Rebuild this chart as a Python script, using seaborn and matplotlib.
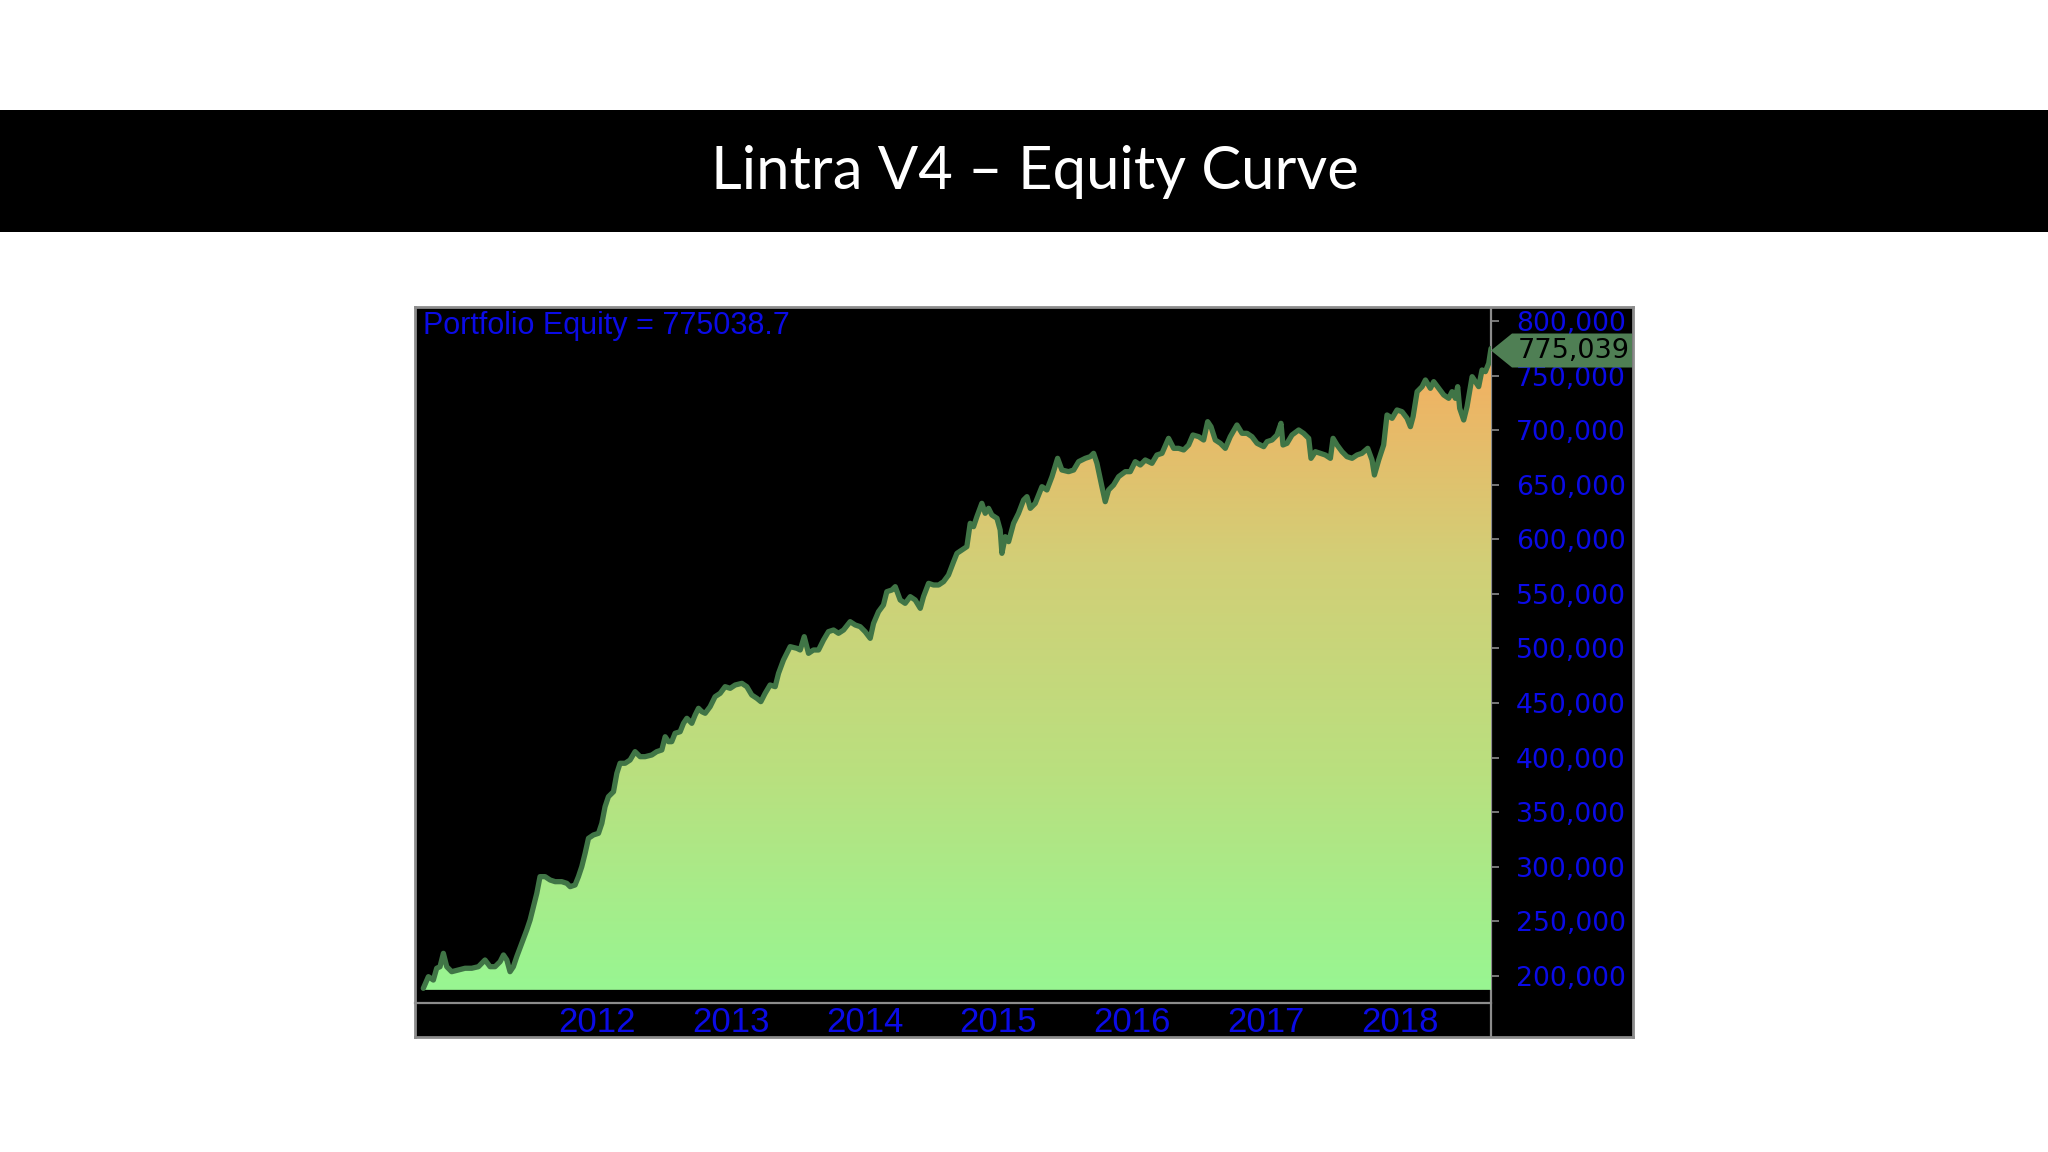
import numpy as np
import pandas as pd
import seaborn as sns
import matplotlib.pyplot as plt
from matplotlib.colors import LinearSegmentedColormap
from matplotlib.patches import Polygon, Rectangle
from matplotlib.transforms import IdentityTransform

# Equity curve (decimal year, equity)
years = [
    2010.993, 2011.031, 2011.068, 2011.093, 2011.118, 2011.143, 2011.168, 2011.205, 2011.255, 2011.305,
    2011.355, 2011.405, 2011.454, 2011.492, 2011.529, 2011.567, 2011.592, 2011.617, 2011.641, 2011.666,
    2011.691, 2011.729, 2011.766, 2011.791, 2011.816, 2011.841, 2011.865, 2011.903, 2011.940, 2011.978,
    2012.027, 2012.065, 2012.090, 2012.127, 2012.152, 2012.177, 2012.202, 2012.227, 2012.264, 2012.302,
    2012.327, 2012.351, 2012.376, 2012.414, 2012.439, 2012.463, 2012.501, 2012.538, 2012.575, 2012.613,
    2012.650, 2012.700, 2012.737, 2012.775, 2012.800, 2012.825, 2012.849, 2012.874, 2012.912, 2012.937,
    2012.962, 2012.999, 2013.024, 2013.049, 2013.074, 2013.099,
    2013.136, 2013.173, 2013.211, 2013.248, 2013.286, 2013.323, 2013.373, 2013.410, 2013.447, 2013.485,
    2013.515, 2013.547, 2013.584, 2013.622, 2013.647, 2013.684, 2013.709, 2013.734, 2013.784, 2013.809,
    2013.839, 2013.871, 2013.908, 2013.946, 2013.983, 2014.020, 2014.058, 2014.095, 2014.133, 2014.182,
    2014.220, 2014.257, 2014.294, 2014.332, 2014.357, 2014.394, 2014.431, 2014.456, 2014.494, 2014.519,
    2014.556, 2014.593, 2014.631, 2014.668, 2014.706, 2014.730, 2014.768, 2014.805, 2014.843, 2014.880,
    2014.917, 2014.955, 2014.980, 2015.017, 2015.054, 2015.079,
    2015.104, 2015.129, 2015.166, 2015.191, 2015.216, 2015.241, 2015.279, 2015.303, 2015.316, 2015.341,
    2015.366, 2015.403, 2015.440, 2015.478, 2015.503, 2015.528, 2015.565, 2015.615, 2015.652, 2015.690,
    2015.732, 2015.764, 2015.814, 2015.852, 2015.889, 2015.939, 2015.976, 2016.001, 2016.026, 2016.063,
    2016.088, 2016.113, 2016.150, 2016.188, 2016.238, 2016.275, 2016.312, 2016.350, 2016.387, 2016.437,
    2016.474, 2016.512, 2016.561, 2016.599, 2016.636, 2016.674, 2016.711, 2016.743, 2016.786, 2016.823,
    2016.853, 2016.878, 2016.910, 2016.948, 2016.985, 2017.022, 2017.072, 2017.110, 2017.147, 2017.184,
    2017.222,
    2017.247, 2017.272, 2017.297, 2017.334, 2017.371, 2017.401, 2017.416, 2017.446, 2017.483, 2017.533,
    2017.570, 2017.608, 2017.625, 2017.658, 2017.695, 2017.732, 2017.770, 2017.790, 2017.820, 2017.857,
    2017.894, 2017.932, 2017.969, 2018.006, 2018.049, 2018.081, 2018.099, 2018.131, 2018.168, 2018.193,
    2018.231, 2018.268, 2018.305, 2018.343, 2018.368, 2018.388, 2018.418, 2018.455, 2018.480, 2018.517,
    2018.542, 2018.579, 2018.617, 2018.654, 2018.679, 2018.704, 2018.721, 2018.736, 2018.766, 2018.791,
    2018.829, 2018.853, 2018.878, 2018.903, 2018.928, 2018.953, 2018.970,
]
equity = [
    188400, 199100, 196000, 206800, 208250, 220500, 208250, 203650, 205200, 206800,
    206800, 208250, 214400, 208250, 208250, 212850, 219000, 214400, 203650, 208250,
    217400, 229700, 241900, 251050, 263250, 275500, 290800, 290800, 287750, 286200,
    286200, 284700, 281600, 283150, 290800, 299950, 312200, 325950, 329000, 330550,
    339700, 354950, 364100, 368700, 385550, 394750, 394750, 397750, 405400, 400800,
    400800, 402350, 405400, 406950, 419100, 414550, 414550, 422250, 423700, 431400,
    436000, 431400, 439000, 445150, 442050, 440600,
    446650, 455820, 458890, 464990, 463470, 466520, 468050, 464990, 457350, 454300,
    451240, 458890, 466520, 464990, 477220, 489450, 495560, 501670, 500150, 498620,
    510840, 495560, 498620, 498620, 507780, 515420, 516950, 513900, 516950, 524590,
    521540, 520010, 515420, 509310, 523070, 533760, 539880, 552100, 553630, 556680,
    544460, 541400, 547520, 544460, 536820, 547520, 559740, 558210, 558210, 561270,
    567380, 579600, 587250, 590300, 593360, 614760,
    611700, 620860, 633090, 623930, 628510, 622400, 619340, 608640, 587250, 602530,
    597940, 614760, 623930, 636150, 639210, 628510, 633090, 648370, 645320, 657540,
    674360, 663660, 662130, 663660, 671300, 674360, 675880, 678940, 669770, 648370,
    634620, 645320, 649900, 657540, 662130, 662130, 671300, 668240, 672830, 669770,
    677410, 678940, 692690, 683520, 683520, 682000, 686580, 695750, 694220, 691160,
    707970, 703390, 691160, 688110, 683520, 694220, 704920, 697280, 697280, 694220,
    688110,
    686580, 685050, 689640, 691160, 695750, 706450, 686580, 688110, 695750, 700330,
    697280, 692690, 674360, 680460, 678940, 677410, 674360, 692690, 686580, 680460,
    675880, 674360, 677410, 678940, 683520, 672830, 659070, 672830, 686580, 714090,
    711030, 718670, 717140, 711030, 703390, 712560, 735480, 740060, 746180, 738540,
    744650, 738540, 732420, 729370, 735480, 729370, 740060, 720200, 709500, 721730,
    749230, 744650, 740060, 755350, 753820, 761460, 775038.7,
]
year_ticks = [2012, 2013, 2014, 2015, 2016, 2017, 2018]
value_ticks = [200000, 250000, 300000, 350000, 400000, 450000, 500000,
               550000, 600000, 650000, 700000, 750000, 800000]
title = 'Lintra V4 – Equity Curve'

W, H = 2048, 1152
GREY = '#8c8c8c'
BLUE = '#0b0be6'
LINE = '#407546'
TAG = '#4f7f54'

sns.set_theme(style='white')
plt.rcParams['font.family'] = ['Liberation Sans', 'DejaVu Sans']

df = pd.DataFrame({'year': years, 'equity': equity})


def box(l, t, r, b):
    # pixel box -> figure fraction rect
    return [l / W, 1 - b / H, (r - l) / W, (b - t) / H]


fig = plt.figure(figsize=(W / 100, H / 100), dpi=100)
fig.patch.set_facecolor('white')

# Title band
fig.add_artist(Rectangle((0, 1 - 232 / H), 1, 122 / H, transform=fig.transFigure,
                         facecolor='black', edgecolor='none', zorder=0))
fig.text(1035 / W, 1 - 172 / H, title, color='white', fontsize=43,
         family=['Lato', 'DejaVu Sans'], fontweight='normal', ha='center', va='center')

# Black chart panel with grey frame
bg = fig.add_axes(box(415, 307, 1633, 1037))
bg.set_facecolor('black')
bg.set_xlim(0, 1)
bg.set_ylim(0, 1)
bg.set_xticks([])
bg.set_yticks([])
for s in bg.spines.values():
    s.set_color(GREY)
    s.set_linewidth(2)
bg.axvline((1491 - 415) / (1633 - 415), color=GREY, lw=1.6)

# Plot area
ax = fig.add_axes(box(415, 307, 1491, 1003))
ax.set_facecolor('none')
base = 187000

cmap = LinearSegmentedColormap.from_list('eq', ['#98f692', '#b9e07f', '#d2cf77', '#f5ae60'])
area = ax.fill_between(df['year'], df['equity'], base, color='none', lw=0)
grad = ax.imshow(np.linspace(0, 1, 256).reshape(-1, 1), cmap=cmap, aspect='auto', origin='lower',
                 extent=[df['year'].min(), df['year'].max(), base, df['equity'].max()], zorder=1)
grad.set_clip_path(area.get_paths()[0], transform=ax.transData)

sns.lineplot(data=df, x='year', y='equity', ax=ax, color=LINE, lw=3.8, estimator=None, zorder=3)

ax.set_xlim(2010.931, df['year'].iloc[-1])
ax.set_ylim(174950, 813100)
ax.set_xlabel('')
ax.set_ylabel('')

for side in ['top', 'left', 'right']:
    ax.spines[side].set_visible(False)
ax.spines['bottom'].set_color(GREY)
ax.spines['bottom'].set_linewidth(1.6)

ax.yaxis.tick_right()
ax.set_yticks(value_ticks)
ax.set_yticklabels([f'{v:,}' for v in value_ticks])
ax.tick_params(axis='y', color=GREY, labelcolor=BLUE, length=6, width=1.2,
               pad=12, labelsize=19.2, direction='out')
for lab in ax.get_yticklabels():
    lab.set_family(['DejaVu Sans'])

ax.set_xticks(year_ticks)
ax.set_xticklabels([str(y) for y in year_ticks])
ax.tick_params(axis='x', color=GREY, labelcolor=BLUE, length=8, width=1.2,
               pad=-6, labelsize=25, direction='out')
for lab in ax.get_xticklabels():
    lab.set_horizontalalignment('left')
    lab.set_family(['Liberation Sans Narrow', 'Liberation Sans'])

ax.text((423 - 415) / (1491 - 415), (1003 - 334) / (1003 - 307),
        f'Portfolio Equity = {equity[-1]}', transform=ax.transAxes, color=BLUE,
        fontsize=22, va='baseline', ha='left')

# Last-value tag on the price axis
last = equity[-1]
tx, ty = ax.transData.transform((df['year'].iloc[-1], last))
ty -= 2
right = bg.transAxes.transform((1, 0))[0]
tag = Polygon([(tx, ty), (tx + 21, ty + 17), (right - 1, ty + 17), (right - 1, ty - 17), (tx + 21, ty - 17)],
              closed=True, transform=IdentityTransform(), facecolor=TAG, edgecolor='none', zorder=5)
fig.add_artist(tag)
fig.text(tx + 27, ty, f'{round(last):,}', transform=IdentityTransform(), color='black',
         fontsize=19.5, family=['DejaVu Sans'], va='center', ha='left', zorder=6)

fig.savefig('out.png', dpi=100, facecolor='white')
